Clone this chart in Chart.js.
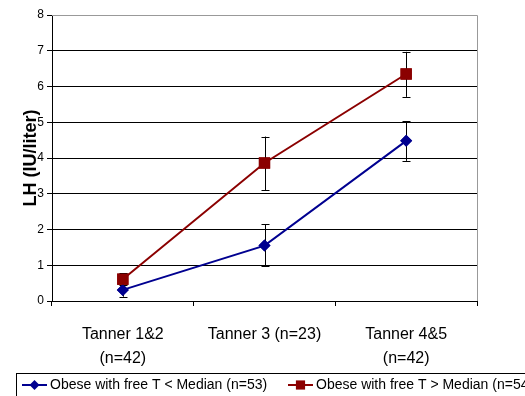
<!DOCTYPE html>
<html lang="en">
  <head>
    <meta charset="UTF-8" />
    <title>LH by Tanner stage</title>
    <style>
      html, body { margin: 0; padding: 0; background: #fff; }
      .box { width: 525px; height: 396px; }
    </style>
  </head>
  <body>
    <div class="box">
      <canvas id="myChart" width="525" height="396"></canvas>
    </div>

    <script src="https://cdn.jsdelivr.net/npm/chart.js"></script>

    <script>
      const categories = [
        ["Tanner 1&2", "(n=42)"],
        "Tanner 3 (n=23)",
        ["Tanner 4&5", "(n=42)"],
      ];
      const seriesNames = [
        "Obese with free T < Median (n=53)",
        "Obese with free T > Median (n=54)",
      ];
      const belowMedian = [0.31, 1.55, 4.48];
      const belowLow = [0.12, 0.97, 3.92];
      const belowHigh = [0.5, 2.15, 5.03];
      const aboveMedian = [0.61, 3.86, 6.35];
      const aboveLow = [0.45, 3.1, 5.71];
      const aboveHigh = [0.78, 4.6, 6.97];
      const yTicks = [0, 1, 2, 3, 4, 5, 6, 7, 8];

      const blue = "#000090";
      const red = "#8b0000";
      const font = "'Liberation Sans', Arial, sans-serif";

      // error bars + grey frame + y title, drawn with the chart scales
      const extras = {
        id: "extras",
        afterDatasetsDraw(chart) {
          const c = chart.ctx;
          const x = chart.scales.x;
          const y = chart.scales.y;
          const a = chart.chartArea;
          const bars = [
            [belowLow, belowHigh],
            [aboveLow, aboveHigh],
          ];
          c.save();
          c.strokeStyle = "#000";
          c.lineWidth = 1;
          bars.forEach(([lo, hi]) => {
            lo.forEach((v, i) => {
              const px = Math.round(x.getPixelForValue(i)) + 0.5;
              const y1 = y.getPixelForValue(v);
              const y2 = y.getPixelForValue(hi[i]);
              c.beginPath();
              c.moveTo(px, y1);
              c.lineTo(px, y2);
              c.moveTo(px - 4, Math.round(y1) + 0.5);
              c.lineTo(px + 4, Math.round(y1) + 0.5);
              c.moveTo(px - 4, Math.round(y2) + 0.5);
              c.lineTo(px + 4, Math.round(y2) + 0.5);
              c.stroke();
            });
          });
          c.restore();
          // redraw points above error bars
          chart.getSortedVisibleDatasetMetas().forEach((m) => {
            m.data.forEach((el) => el.draw(c, a));
          });
        },
        afterDraw(chart) {
          const c = chart.ctx;
          const a = chart.chartArea;
          c.save();
          c.strokeStyle = "#999";
          c.lineWidth = 1;
          c.beginPath();
          c.moveTo(a.left, a.top + 0.5);
          c.lineTo(a.right + 0.5, a.top + 0.5);
          c.lineTo(a.right + 0.5, a.bottom);
          c.stroke();

          // y axis title
          c.translate(31, (a.top + a.bottom) / 2);
          c.rotate(-Math.PI / 2);
          c.fillStyle = "#000";
          c.font = "bold 18px " + font;
          c.textAlign = "center";
          c.textBaseline = "middle";
          c.fillText("LH (IU/liter)", 0, 0);
          c.restore();

          // legend box
          c.save();
          c.strokeStyle = "#000";
          c.lineWidth = 1;
          c.strokeRect(16.5, 373.5, 520, 40);
          c.font = "14px " + font;
          c.fillStyle = "#000";
          c.textBaseline = "middle";
          const items = [
            { x: 22, color: blue, style: "rectRot", r: 5, text: seriesNames[0] },
            { x: 288, color: red, style: "rect", r: 6.5, text: seriesNames[1] },
          ];
          const ly = 385;
          items.forEach((it) => {
            c.strokeStyle = it.color;
            c.lineWidth = 2;
            c.beginPath();
            c.moveTo(it.x, ly);
            c.lineTo(it.x + 25, ly);
            c.stroke();
            c.fillStyle = it.color;
            Chart.helpers.drawPoint(c, { pointStyle: it.style, radius: it.r, borderWidth: 0 }, it.x + 12.5, ly);
            c.fillStyle = "#000";
            c.fillText(it.text, it.x + 28, ly);
          });
          c.restore();
        },
      };

      new Chart(document.getElementById("myChart"), {
        type: "line",
        data: {
          labels: categories,
          datasets: [
            {
              label: seriesNames[0],
              data: belowMedian,
              borderColor: blue,
              backgroundColor: blue,
              borderWidth: 2,
              pointStyle: "rectRot",
              pointRadius: 6,
              pointBorderWidth: 0,
            },
            {
              label: seriesNames[1],
              data: aboveMedian,
              borderColor: red,
              backgroundColor: red,
              borderWidth: 2,
              pointStyle: "rect",
              pointRadius: 8,
              pointBorderWidth: 0,
            },
          ],
        },
        options: {
          responsive: false,
          animation: false,
          events: [],
          layout: { padding: { left: 0, right: 48, top: 15, bottom: 15 } },
          plugins: {
            legend: { display: false },
            tooltip: { enabled: false },
          },
          scales: {
            x: {
              offset: true,
              grid: {
                offset: true,
                drawOnChartArea: false,
                drawTicks: true,
                tickLength: 5,
                color: "#000",
              },
              border: { color: "#000", width: 1 },
              ticks: {
                color: "#000",
                padding: 17,
                maxRotation: 0,
                autoSkip: false,
                font: { family: font, size: 16, lineHeight: 1.5 },
              },
              afterFit(s) { s.height = 80; },
            },
            y: {
              min: 0,
              max: 8,
              afterBuildTicks(s) { s.ticks = yTicks.map((v) => ({ value: v })); },
              grid: { color: "#000", tickLength: 5 },
              border: { color: "#000", width: 1 },
              ticks: {
                color: "#000",
                padding: 3,
                font: { family: font, size: 12 },
              },
              afterFit(s) { s.width = 52; },
            },
          },
        },
        plugins: [extras],
      });
    </script>
  </body>
</html>
